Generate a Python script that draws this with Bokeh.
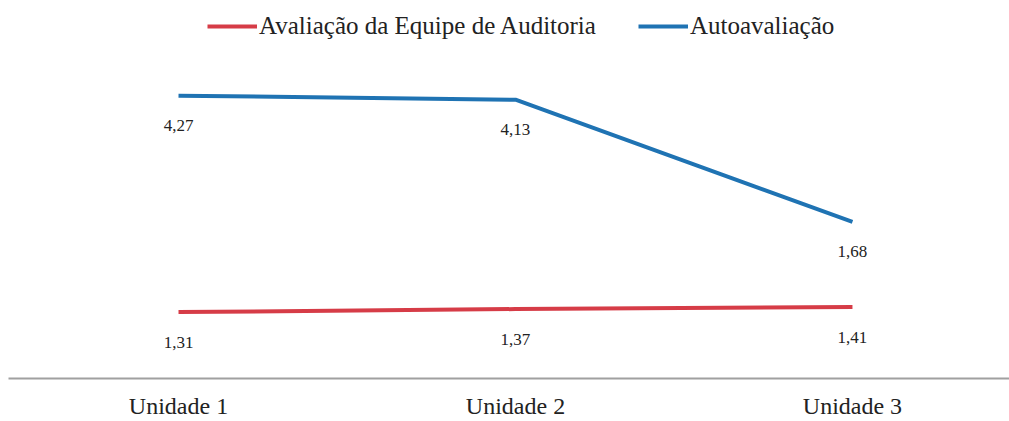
from bokeh.plotting import figure
from bokeh.models import ColumnDataSource, LabelSet, Legend, LegendItem, Range1d, FixedTicker
from bokeh.embed import file_html
from bokeh.resources import INLINE

categories = ["Unidade 1", "Unidade 2", "Unidade 3"]
auditoria = [1.31, 1.37, 1.41]
autoavaliacao = [4.27, 4.13, 1.68]

FONT = "Liberation Serif"
RED = "#d63c47"
BLUE = "#1f73b3"
TXT = "#222222"

xs = list(range(1, len(categories) + 1))
stack_blue = [a + b for a, b in zip(auditoria, autoavaliacao)]

def fmt(v):
    return f"{v:.2f}".replace(".", ",")

src_red = ColumnDataSource(dict(x=xs, y=auditoria, t=[fmt(v) for v in auditoria]))
src_blue = ColumnDataSource(dict(x=xs, y=stack_blue, t=[fmt(v) for v in autoavaliacao]))

p = figure(width=1009, height=421, output_backend="svg", toolbar_location=None,
           x_range=Range1d(0.4955, 3.466), y_range=Range1d(0, 7.3),
           min_border_left=8, min_border_right=0, min_border_top=8, min_border_bottom=40)
p.outline_line_color = None
p.grid.visible = False
p.yaxis.visible = False
p.background_fill_color = "white"
p.border_fill_color = "white"

r_red = p.line("x", "y", source=src_red, line_color=RED, line_width=4)
r_blue = p.line("x", "y", source=src_blue, line_color=BLUE, line_width=4)

for src in (src_red, src_blue):
    p.add_layout(LabelSet(x="x", y="y", text="t", source=src, y_offset=-30,
                          text_align="center", text_baseline="middle",
                          text_font=FONT, text_font_size="17px", text_color=TXT))

ax = p.xaxis[0]
ax.ticker = FixedTicker(ticks=xs)
ax.major_label_overrides = {x: c for x, c in zip(xs, categories)}
ax.major_tick_line_color = None
ax.minor_tick_line_color = None
ax.axis_line_color = "#a0a0a0"
ax.axis_line_width = 2
ax.major_label_text_font = FONT
ax.major_label_text_font_size = "24px"
ax.major_label_text_color = TXT
ax.major_label_standoff = 8

legend = Legend(items=[LegendItem(label="Avaliação da Equipe de Auditoria", renderers=[r_red]),
                       LegendItem(label="Autoavaliação", renderers=[r_blue])],
                orientation="horizontal", location=(199, 338),
                label_text_font=FONT, label_text_font_size="25px", label_text_color=TXT,
                glyph_width=50, glyph_height=20, label_standoff=2, spacing=42,
                padding=0, margin=0, border_line_color=None, background_fill_alpha=0)
p.add_layout(legend)

open("out.html", "w").write(file_html(p, INLINE))
